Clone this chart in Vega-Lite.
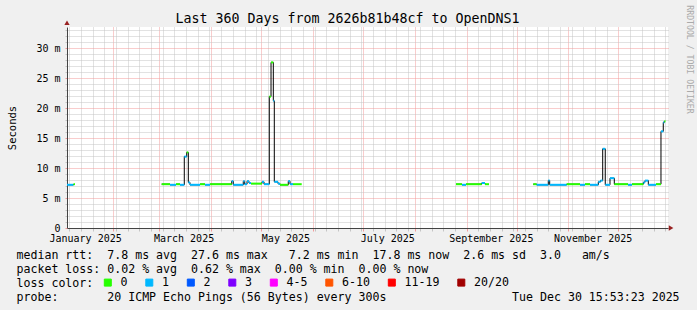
{
  "$schema": "https://vega.github.io/schema/vega-lite/v6.json",
  "width": 601,
  "height": 201,
  "autosize": {"type": "none"},
  "padding": {"left": 67, "top": 27, "right": 29, "bottom": 82},
  "background": "#f0f0f0",
  "config": {"view": {"fill": "#ffffff", "stroke": null}, "font": "DejaVu Sans Mono"},
  "title": {"text": "Last 360 Days from 2626b81b48cf to OpenDNS1", "font": "DejaVu Sans Mono", "fontSize": 13.3, "fontWeight": "normal", "color": "#000000", "anchor": "middle", "frame": "group", "baseline": "alphabetic", "offset": 3, "dx": -20, "dy": 35},
  "data": {"values": [
    {"start":"2025-01-04T16:00Z","end":"2025-01-08T13:00Z","ms":7.2,"loss":"1","sec":"A"},
    {"start":"2025-01-08T13:00Z","end":"2025-01-09T11:00Z","ms":7.3,"loss":"0","sec":"A"},
    {"start":"2025-03-02T09:00Z","end":"2025-03-07T09:00Z","ms":7.3,"loss":"0","sec":"B"},
    {"start":"2025-03-07T09:00Z","end":"2025-03-10T23:00Z","ms":7.2,"loss":"1","sec":"B"},
    {"start":"2025-03-10T23:00Z","end":"2025-03-13T08:00Z","ms":7.3,"loss":"0","sec":"B"},
    {"start":"2025-03-13T08:00Z","end":"2025-03-15T22:00Z","ms":7.2,"loss":"1","sec":"B"},
    {"start":"2025-03-15T22:00Z","end":"2025-03-17T09:00Z","ms":11.9,"loss":"1","sec":"B"},
    {"start":"2025-03-17T09:00Z","end":"2025-03-18T08:00Z","ms":12.6,"loss":"0","sec":"B"},
    {"start":"2025-03-18T08:00Z","end":"2025-03-19T08:00Z","ms":7.6,"loss":"1","sec":"B"},
    {"start":"2025-03-19T08:00Z","end":"2025-03-25T08:00Z","ms":7.2,"loss":"1","sec":"B"},
    {"start":"2025-03-25T08:00Z","end":"2025-03-28T08:00Z","ms":7.3,"loss":"0","sec":"B"},
    {"start":"2025-03-28T08:00Z","end":"2025-03-31T08:00Z","ms":7.2,"loss":"1","sec":"B"},
    {"start":"2025-03-31T08:00Z","end":"2025-04-13T08:00Z","ms":7.3,"loss":"0","sec":"B"},
    {"start":"2025-04-13T08:00Z","end":"2025-04-14T06:00Z","ms":7.8,"loss":"1","sec":"B"},
    {"start":"2025-04-14T06:00Z","end":"2025-04-20T06:00Z","ms":7.2,"loss":"1","sec":"B"},
    {"start":"2025-04-20T06:00Z","end":"2025-04-21T02:00Z","ms":7.8,"loss":"1","sec":"B"},
    {"start":"2025-04-21T02:00Z","end":"2025-04-22T12:00Z","ms":7.3,"loss":"1","sec":"B"},
    {"start":"2025-04-22T12:00Z","end":"2025-04-23T16:00Z","ms":7.8,"loss":"1","sec":"B"},
    {"start":"2025-04-23T16:00Z","end":"2025-04-24T21:00Z","ms":7.5,"loss":"1","sec":"B"},
    {"start":"2025-04-24T21:00Z","end":"2025-05-01T11:00Z","ms":7.4,"loss":"0","sec":"B"},
    {"start":"2025-05-01T11:00Z","end":"2025-05-02T16:00Z","ms":7.7,"loss":"1","sec":"B"},
    {"start":"2025-05-02T16:00Z","end":"2025-05-05T20:00Z","ms":7.3,"loss":"1","sec":"B"},
    {"start":"2025-05-05T20:00Z","end":"2025-05-06T21:00Z","ms":21.9,"loss":"0","sec":"B"},
    {"start":"2025-05-06T21:00Z","end":"2025-05-08T06:00Z","ms":27.6,"loss":"0","sec":"B"},
    {"start":"2025-05-08T06:00Z","end":"2025-05-08T20:00Z","ms":21.2,"loss":"1","sec":"B"},
    {"start":"2025-05-08T20:00Z","end":"2025-05-11T01:00Z","ms":7.7,"loss":"1","sec":"B"},
    {"start":"2025-05-11T01:00Z","end":"2025-05-12T06:00Z","ms":7.4,"loss":"1","sec":"B"},
    {"start":"2025-05-12T06:00Z","end":"2025-05-17T05:00Z","ms":7.2,"loss":"0","sec":"B"},
    {"start":"2025-05-17T05:00Z","end":"2025-05-18T06:00Z","ms":7.8,"loss":"1","sec":"B"},
    {"start":"2025-05-18T06:00Z","end":"2025-05-20T01:00Z","ms":7.3,"loss":"1","sec":"B"},
    {"start":"2025-05-20T01:00Z","end":"2025-05-25T06:00Z","ms":7.3,"loss":"0","sec":"B"},
    {"start":"2025-08-25T16:00Z","end":"2025-08-29T06:00Z","ms":7.3,"loss":"0","sec":"C"},
    {"start":"2025-08-29T06:00Z","end":"2025-08-31T16:00Z","ms":7.2,"loss":"1","sec":"C"},
    {"start":"2025-08-31T16:00Z","end":"2025-09-10T02:00Z","ms":7.3,"loss":"0","sec":"C"},
    {"start":"2025-09-10T02:00Z","end":"2025-09-12T01:00Z","ms":7.5,"loss":"1","sec":"C"},
    {"start":"2025-09-12T01:00Z","end":"2025-09-14T11:00Z","ms":7.3,"loss":"0","sec":"C"},
    {"start":"2025-10-10T23:00Z","end":"2025-10-13T00:00Z","ms":7.3,"loss":"0","sec":"D"},
    {"start":"2025-10-13T00:00Z","end":"2025-10-19T23:00Z","ms":7.2,"loss":"1","sec":"D"},
    {"start":"2025-10-19T23:00Z","end":"2025-10-20T19:00Z","ms":7.9,"loss":"1","sec":"D"},
    {"start":"2025-10-20T19:00Z","end":"2025-10-30T23:00Z","ms":7.2,"loss":"1","sec":"D"},
    {"start":"2025-10-30T23:00Z","end":"2025-11-07T23:00Z","ms":7.3,"loss":"0","sec":"D"},
    {"start":"2025-11-07T23:00Z","end":"2025-11-10T23:00Z","ms":7.2,"loss":"1","sec":"D"},
    {"start":"2025-11-10T23:00Z","end":"2025-11-13T23:00Z","ms":7.3,"loss":"0","sec":"D"},
    {"start":"2025-11-13T23:00Z","end":"2025-11-18T22:00Z","ms":7.2,"loss":"1","sec":"D"},
    {"start":"2025-11-18T22:00Z","end":"2025-11-20T06:00Z","ms":7.7,"loss":"1","sec":"D"},
    {"start":"2025-11-20T06:00Z","end":"2025-11-21T13:00Z","ms":7.9,"loss":"1","sec":"D"},
    {"start":"2025-11-21T13:00Z","end":"2025-11-23T02:00Z","ms":13.2,"loss":"1","sec":"D"},
    {"start":"2025-11-23T02:00Z","end":"2025-11-25T22:00Z","ms":7.2,"loss":"1","sec":"D"},
    {"start":"2025-11-25T22:00Z","end":"2025-11-28T12:00Z","ms":8.3,"loss":"1","sec":"D"},
    {"start":"2025-11-28T12:00Z","end":"2025-12-06T17:00Z","ms":7.3,"loss":"0","sec":"D"},
    {"start":"2025-12-06T17:00Z","end":"2025-12-09T02:00Z","ms":7.2,"loss":"1","sec":"D"},
    {"start":"2025-12-09T02:00Z","end":"2025-12-15T21:00Z","ms":7.3,"loss":"0","sec":"D"},
    {"start":"2025-12-15T21:00Z","end":"2025-12-16T21:00Z","ms":7.6,"loss":"1","sec":"D"},
    {"start":"2025-12-16T21:00Z","end":"2025-12-18T21:00Z","ms":7.9,"loss":"1","sec":"D"},
    {"start":"2025-12-18T21:00Z","end":"2025-12-23T11:00Z","ms":7.2,"loss":"1","sec":"D"},
    {"start":"2025-12-23T11:00Z","end":"2025-12-26T11:00Z","ms":7.3,"loss":"0","sec":"D"},
    {"start":"2025-12-26T11:00Z","end":"2025-12-27T20:00Z","ms":16.1,"loss":"1","sec":"D"},
    {"start":"2025-12-27T20:00Z","end":"2025-12-28T11:00Z","ms":17.6,"loss":"1","sec":"D"},
    {"start":"2025-12-28T11:00Z","end":"2025-12-29T04:00Z","ms":17.8,"loss":"0","sec":"D"}
  ]},
  "layer": [
    {
      "mark": {"type": "line", "interpolate": "step-after", "color": "#000000", "strokeWidth": 1},
      "encoding": {
        "x": {
          "field": "start", "type": "temporal",
          "scale": {"type": "utc", "nice": false, "domain": [
            {"year": 2025, "month": 1, "date": 4, "hours": 15, "minutes": 53, "seconds": 23, "utc": true},
            {"year": 2025, "month": 12, "date": 30, "hours": 15, "minutes": 53, "seconds": 23, "utc": true}
          ]},
          "axis": {
            "tickCount": 1000,
            "values": [
              {"year":2025,"month":1,"date":6,"utc":true},{"year":2025,"month":1,"date":13,"utc":true},{"year":2025,"month":1,"date":15,"hours":12,"utc":true},{"year":2025,"month":1,"date":20,"utc":true},{"year":2025,"month":1,"date":27,"utc":true},
              {"year":2025,"month":2,"date":1,"utc":true},{"year":2025,"month":2,"date":3,"utc":true},{"year":2025,"month":2,"date":10,"utc":true},{"year":2025,"month":2,"date":17,"utc":true},{"year":2025,"month":2,"date":24,"utc":true},
              {"year":2025,"month":3,"date":1,"utc":true},{"year":2025,"month":3,"date":3,"utc":true},{"year":2025,"month":3,"date":10,"utc":true},{"year":2025,"month":3,"date":15,"hours":12,"utc":true},{"year":2025,"month":3,"date":17,"utc":true},{"year":2025,"month":3,"date":24,"utc":true},{"year":2025,"month":3,"date":31,"utc":true},
              {"year":2025,"month":4,"date":1,"utc":true},{"year":2025,"month":4,"date":7,"utc":true},{"year":2025,"month":4,"date":14,"utc":true},{"year":2025,"month":4,"date":21,"utc":true},{"year":2025,"month":4,"date":28,"utc":true},
              {"year":2025,"month":5,"date":1,"utc":true},{"year":2025,"month":5,"date":5,"utc":true},{"year":2025,"month":5,"date":12,"utc":true},{"year":2025,"month":5,"date":15,"hours":12,"utc":true},{"year":2025,"month":5,"date":19,"utc":true},{"year":2025,"month":5,"date":26,"utc":true},
              {"year":2025,"month":6,"date":1,"utc":true},{"year":2025,"month":6,"date":2,"utc":true},{"year":2025,"month":6,"date":9,"utc":true},{"year":2025,"month":6,"date":16,"utc":true},{"year":2025,"month":6,"date":23,"utc":true},{"year":2025,"month":6,"date":30,"utc":true},
              {"year":2025,"month":7,"date":1,"utc":true},{"year":2025,"month":7,"date":7,"utc":true},{"year":2025,"month":7,"date":14,"utc":true},{"year":2025,"month":7,"date":15,"hours":12,"utc":true},{"year":2025,"month":7,"date":21,"utc":true},{"year":2025,"month":7,"date":28,"utc":true},
              {"year":2025,"month":8,"date":1,"utc":true},{"year":2025,"month":8,"date":4,"utc":true},{"year":2025,"month":8,"date":11,"utc":true},{"year":2025,"month":8,"date":18,"utc":true},{"year":2025,"month":8,"date":25,"utc":true},
              {"year":2025,"month":9,"date":1,"utc":true},{"year":2025,"month":9,"date":8,"utc":true},{"year":2025,"month":9,"date":15,"utc":true},{"year":2025,"month":9,"date":15,"hours":12,"utc":true},{"year":2025,"month":9,"date":22,"utc":true},{"year":2025,"month":9,"date":29,"utc":true},
              {"year":2025,"month":10,"date":1,"utc":true},{"year":2025,"month":10,"date":6,"utc":true},{"year":2025,"month":10,"date":13,"utc":true},{"year":2025,"month":10,"date":20,"utc":true},{"year":2025,"month":10,"date":27,"utc":true},
              {"year":2025,"month":11,"date":1,"utc":true},{"year":2025,"month":11,"date":3,"utc":true},{"year":2025,"month":11,"date":10,"utc":true},{"year":2025,"month":11,"date":15,"hours":12,"utc":true},{"year":2025,"month":11,"date":17,"utc":true},{"year":2025,"month":11,"date":24,"utc":true},
              {"year":2025,"month":12,"date":1,"utc":true},{"year":2025,"month":12,"date":8,"utc":true},{"year":2025,"month":12,"date":15,"utc":true},{"year":2025,"month":12,"date":22,"utc":true},{"year":2025,"month":12,"date":29,"utc":true}
            ],
            "labelExpr": "utchours(datum.value) == 12 ? utcFormat(datum.value, '%B %Y') : ''",
            "labelFont": "DejaVu Sans Mono", "labelFontSize": 10, "labelColor": "#000000",
            "labelBaseline": "alphabetic", "labelAlign": "center", "labelPadding": 10.5,
            "labelOverlap": false, "labelFlush": false, "labelBound": false,
            "grid": true, "gridDash": [1, 1],
            "gridColor": {"condition": {"test": "utcdate(datum.value) == 1", "value": "#f29a9a"}, "value": "#c4c4c4"},
            "gridOpacity": {"condition": {"test": "utchours(datum.value) == 12", "value": 0}, "value": 1},
            "tickSize": 3,
            "tickColor": {"condition": {"test": "utcdate(datum.value) == 1", "value": "#f29a9a"}, "value": "#c4c4c4"},
            "tickOpacity": {"condition": {"test": "utchours(datum.value) == 12", "value": 0}, "value": 1},
            "domainColor": "#444444",
            "title": [
              "median rtt:\u00a0\u00a07.8 ms avg\u00a0\u00a027.6 ms max\u00a0\u00a0\u00a07.2 ms min\u00a0\u00a017.8 ms now\u00a0\u00a02.6 ms sd\u00a0\u00a03.0\u00a0\u00a0\u00a0am/s",
              "packet loss: 0.02 % avg\u00a0\u00a00.62 % max\u00a0\u00a00.00 % min\u00a0\u00a00.00 % now",
              "loss color:",
              "probe:\u00a0\u00a0\u00a0\u00a0\u00a0\u00a0\u00a020 ICMP Echo Pings (56 Bytes) every 300s\u00a0\u00a0\u00a0\u00a0\u00a0\u00a0\u00a0\u00a0\u00a0\u00a0\u00a0\u00a0\u00a0\u00a0\u00a0\u00a0\u00a0\u00a0Tue Dec 30 15:53:23 2025"
            ],
            "titleFont": "DejaVu Sans Mono", "titleFontSize": 11.6, "titleFontWeight": "normal", "titleColor": "#000000",
            "titleAnchor": "start", "titleAlign": "left", "titleBaseline": "alphabetic",
            "titleX": -51, "titleY": 30, "titleLineHeight": 14
          }
        },
        "y": {
          "field": "ms", "type": "quantitative",
          "scale": {"domain": [0, 33.5], "nice": false, "zero": true},
          "axis": {
            "tickCount": 1000,
            "values": [0,1,2,3,4,5,6,7,8,9,10,11,12,13,14,15,16,17,18,19,20,21,22,23,24,25,26,27,28,29,30,31,32,33],
            "labelExpr": "datum.value == 0 ? '0\u00a0\u00a0' : (datum.value % 5 == 0 ? datum.value + ' m' : '')",
            "labelFont": "DejaVu Sans Mono", "labelFontSize": 10, "labelColor": "#000000",
            "labelPadding": 5, "labelOverlap": false, "labelBound": false, "labelFlush": false,
            "tickSize": 2,
            "tickColor": {"condition": {"test": "datum.value % 5 == 0", "value": "#f29a9a"}, "value": "#c4c4c4"},
            "grid": true, "gridDash": [1, 1],
            "gridColor": {"condition": {"test": "datum.value % 5 == 0", "value": "#f29a9a"}, "value": "#c4c4c4"},
            "domainColor": "#444444",
            "title": "Seconds", "titleFont": "DejaVu Sans Mono", "titleFontSize": 10.5, "titleFontWeight": "normal", "titleColor": "#000000",
            "titleAngle": 270, "titleAlign": "center", "titleBaseline": "middle", "titleX": -55, "titleY": 100.5
          }
        },
        "detail": {"field": "sec", "type": "nominal"}
      }
    },
    {
      "mark": {"type": "rule", "strokeWidth": 2},
      "encoding": {
        "x": {"field": "start", "type": "temporal"},
        "x2": {"field": "end"},
        "y": {
          "field": "ms", "type": "quantitative",
          "axis": {
            "orient": "right", "labels": false, "ticks": false, "domain": false, "grid": false,
            "title": "RRDTOOL / TOBI OETIKER", "titleFont": "DejaVu Sans Mono", "titleFontSize": 8.2, "titleFontWeight": "normal", "titleColor": "#aaaaaa",
            "titleAngle": 90, "titleAlign": "center", "titleBaseline": "middle", "titleX": 20, "titleY": 32
          }
        },
        "color": {
          "field": "loss", "type": "nominal",
          "scale": {"domain": ["0", "1", "2", "3", "4-5", "6-10", "11-19", "20/20"], "range": ["#26ff00", "#00b8ff", "#0059ff", "#7e00ff", "#ff00ff", "#ff5500", "#ff0000", "#a10000"]},
          "legend": {
            "orient": "none", "legendX": 35, "legendY": 249.5, "direction": "horizontal",
            "title": null,
            "labelFont": "DejaVu Sans Mono", "labelFontSize": 11.6, "labelColor": "#000000", "labelOffset": 7,
            "columnPadding": 15.5, "symbolType": "square", "symbolSize": 49, "symbolStrokeWidth": 1, "padding": 0,
            "encode": {"symbols": {"update": {"fill": {"scale": "color", "field": "value"}, "fillOpacity": {"value": 1}, "stroke": {"value": "#000000"}, "strokeWidth": {"value": 1}, "opacity": {"value": 1}}}}
          }
        }
      }
    },
    {
      "data": {"values": [
        {"axisEnd": "y", "t": "2025-01-04T15:53:23Z", "v": 34.2, "shape": "triangle-up"},
        {"axisEnd": "x", "t": "2026-01-01T12:00:00Z", "v": 0, "shape": "triangle-right"}
      ]},
      "mark": {"type": "point", "filled": true, "size": 28, "color": "#992222", "opacity": 1},
      "encoding": {
        "x": {"field": "t", "type": "temporal"},
        "y": {"field": "v", "type": "quantitative", "axis": null},
        "shape": {"field": "shape", "type": "nominal", "scale": null, "legend": null}
      }
    }
  ],
  "resolve": {"axis": {"y": "independent"}}
}
